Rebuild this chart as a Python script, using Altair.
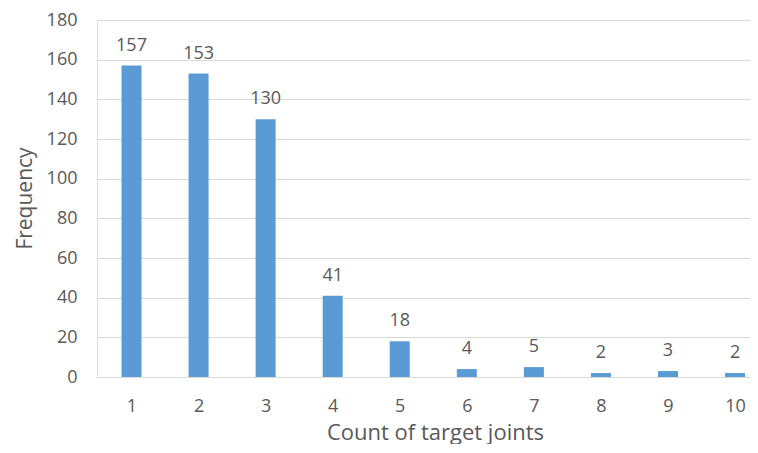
import altair as alt
import pandas as pd

categories = [1, 2, 3, 4, 5, 6, 7, 8, 9, 10]
frequency = [157, 153, 130, 41, 18, 4, 5, 2, 3, 2]
y_ticks = [0, 20, 40, 60, 80, 100, 120, 140, 160, 180]

df = pd.DataFrame({"joints": categories, "freq": frequency})

FONT = "Open Sans"
GRAY = "#595959"

x = alt.X(
    "joints:Q",
    scale=alt.Scale(domain=[0.4855, 10.223], nice=False, zero=False, padding=0),
    axis=alt.Axis(
        title="Count of target joints",
        values=categories,
        format="d",
        grid=False,
        labelAngle=0,
        labelFont=FONT,
        labelFontSize=18,
        labelColor=GRAY,
        labelPadding=20,
        labelOverlap=False,
        labelFlush=False,
        ticks=False,
        domain=False,
        titleFont=FONT,
        titleFontSize=22,
        titleFontWeight="normal",
        titleColor=GRAY,
        titleX=338,
        titleY=62,
        titleBaseline="alphabetic",
    ),
)
y = alt.Y(
    "freq:Q",
    scale=alt.Scale(domain=[0, 180], nice=False),
    axis=alt.Axis(
        title="Frequency",
        values=y_ticks,
        labelFont=FONT,
        labelFontSize=18,
        labelColor=GRAY,
        labelPadding=20,
        labelOverlap=False,
        labelFlush=False,
        ticks=False,
        domain=False,
        gridColor="#D9D9D9",
        gridWidth=1,
        titleFont=FONT,
        titleFontSize=21,
        titleFontWeight="normal",
        titleColor=GRAY,
        titleX=-72,
        titleY=178,
        titleAngle=-90,
        titleBaseline="middle",
        titleAlign="center",
    ),
)

base = alt.Chart(df).encode(x=x, y=y)
bars = base.mark_bar(color="#5B9BD5", size=20)
labels = base.mark_text(
    font=FONT, fontSize=18, color=GRAY, baseline="middle", dy=-20
).encode(text="freq:Q")

chart = (
    alt.layer(bars, labels)
    .properties(
        width=653,
        height=357,
        autosize=alt.AutoSizeParams(type="none"),
        padding={"left": 89, "top": 12, "right": 0, "bottom": 67},
    )
    .configure_view(stroke=None)
    .configure(background="white")
)

chart.save("out.html", embed_options={"renderer": "svg", "actions": False})
